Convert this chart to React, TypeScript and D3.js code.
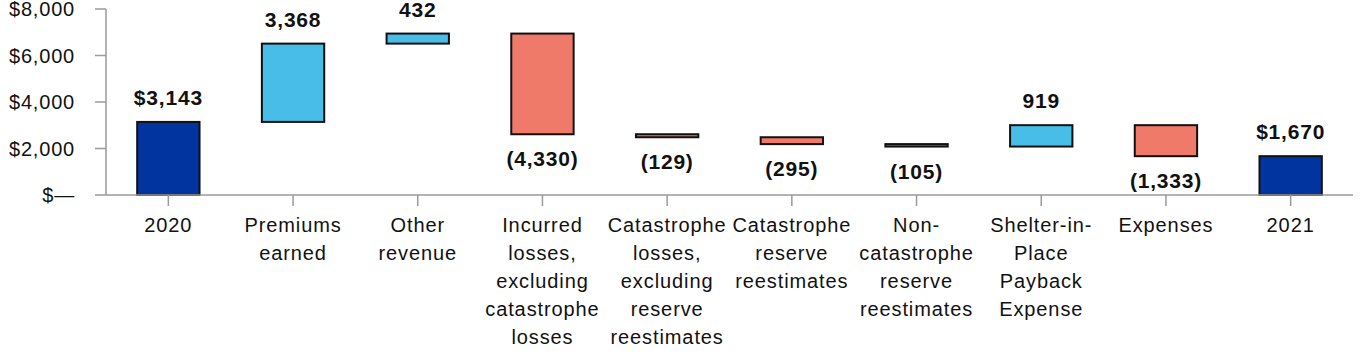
import React from "react";
import { scaleBand, scaleLinear, format } from "d3";

// waterfall data ($ millions)
const categories = [
  "2020",
  "Premiums earned",
  "Other revenue",
  "Incurred losses, excluding catastrophe losses",
  "Catastrophe losses, excluding reserve reestimates",
  "Catastrophe reserve reestimates",
  "Non-catastrophe reserve reestimates",
  "Shelter-in-Place Payback Expense",
  "Expenses",
  "2021",
];
const categoryLines = [
  ["2020"],
  ["Premiums", "earned"],
  ["Other", "revenue"],
  ["Incurred", "losses,", "excluding", "catastrophe", "losses"],
  ["Catastrophe", "losses,", "excluding", "reserve", "reestimates"],
  ["Catastrophe", "reserve", "reestimates"],
  ["Non-", "catastrophe", "reserve", "reestimates"],
  ["Shelter-in-", "Place", "Payback", "Expense"],
  ["Expenses"],
  ["2021"],
];
const values = [3143, 3368, 432, -4330, -129, -295, -105, 919, -1333, 1670];
const kinds = ["total", "up", "up", "down", "down", "down", "down", "up", "down", "total"];
const yTicks = [0, 2000, 4000, 6000, 8000];

const colors = { total: "#0234a0", up: "#47bde7", down: "#ef7a69" };
const fontFamily = "'Liberation Sans', Arial, Helvetica, sans-serif";

function buildSteps() {
  let running = 0;
  return categories.map((c, i) => {
    const v = values[i];
    let start, end;
    if (kinds[i] === "total") {
      start = 0;
      end = v;
      running = v;
    } else {
      start = running;
      end = running + v;
      running = end;
    }
    return { category: c, value: v, kind: kinds[i], start, end, lines: categoryLines[i] };
  });
}

const fmt = format(",");
function labelText(d) {
  if (d.kind === "total") return "$" + fmt(d.value);
  if (d.value < 0) return "(" + fmt(-d.value) + ")";
  return fmt(d.value);
}

export default function App() {
  const width = 1364;
  const height = 360;
  const axisX = 106;
  const axisY = 195;

  const x = scaleBand()
    .domain(categories)
    .range([axisX, 1353])
    .paddingInner(0.5)
    .paddingOuter(0.25);
  const y = scaleLinear().domain([0, 8000]).range([axisY, 9]);

  const steps = buildSteps();

  return (
    <svg
      width={width}
      height={height}
      style={{ position: "absolute", left: 0, top: 0, background: "#fff" }}
      fontFamily={fontFamily}
    >
      {/* y axis */}
      <line x1={axisX} x2={axisX} y1={y(8000)} y2={axisY} stroke="#9a9a9a" strokeWidth={1.5} />
      {yTicks.map((t) => (
        <g key={"yt" + t}>
          <line x1={95} x2={axisX} y1={y(t)} y2={y(t)} stroke="#9a9a9a" strokeWidth={1.5} />
          <text
            x={75}
            y={y(t)}
            dy="0.36em"
            textAnchor="end"
            fontSize={20}
            letterSpacing={0.8}
            fill="#111"
          >
            {t === 0 ? "$\u2014" : "$" + fmt(t)}
          </text>
        </g>
      ))}

      {/* bars */}
      {steps.map((d) => {
        const top = y(Math.max(d.start, d.end));
        const bottom = y(Math.min(d.start, d.end));
        return (
          <rect
            key={"bar" + d.category}
            x={x(d.category)}
            y={top}
            width={x.bandwidth()}
            height={Math.max(bottom - top, 1)}
            fill={colors[d.kind]}
            stroke="#111"
            strokeWidth={2}
          />
        );
      })}

      {/* x axis */}
      <line x1={axisX} x2={1353} y1={axisY} y2={axisY} stroke="#9a9a9a" strokeWidth={1.5} />
      {steps.map((d) => {
        const cx = x(d.category) + x.bandwidth() / 2;
        return (
          <g key={"xt" + d.category}>
            <line x1={cx} x2={cx} y1={axisY} y2={206} stroke="#9a9a9a" strokeWidth={1.5} />
            <text textAnchor="middle" fontSize={20} letterSpacing={0.9} fill="#111">
              {d.lines.map((l, j) => (
                <tspan key={j} x={cx} y={232 + j * 28}>
                  {l}
                </tspan>
              ))}
            </text>
          </g>
        );
      })}

      {/* value labels */}
      {steps.map((d) => {
        const cx = x(d.category) + x.bandwidth() / 2;
        const top = y(Math.max(d.start, d.end));
        const bottom = y(Math.min(d.start, d.end));
        const below = d.value < 0;
        return (
          <text
            key={"lab" + d.category}
            x={cx}
            y={below ? bottom + 32 : top - 17}
            textAnchor="middle"
            fontSize={21}
            fontWeight="bold"
            letterSpacing={0.8}
            fill="#111"
          >
            {labelText(d)}
          </text>
        );
      })}
    </svg>
  );
}
